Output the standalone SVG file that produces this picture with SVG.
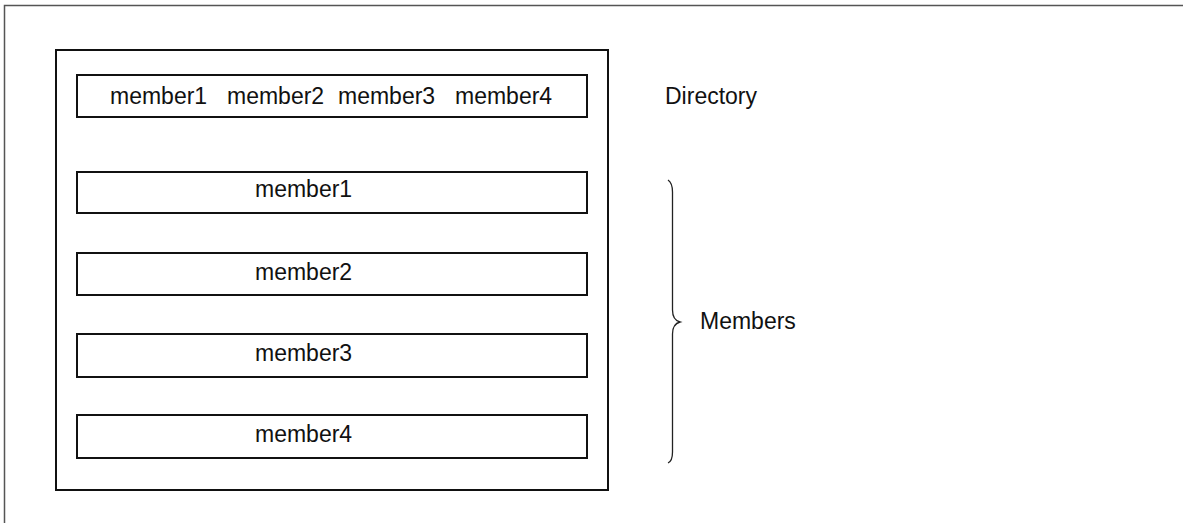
<svg xmlns="http://www.w3.org/2000/svg" width="1183" height="523" viewBox="0 0 1183 523">
<style>
.box{fill:#fff;stroke:#111;stroke-width:2}
.t{font-family:"Liberation Sans",Arial,sans-serif;font-size:23px;fill:#111}
.frame{fill:none;stroke:#555;stroke-width:1.5}
.brace{fill:none;stroke:#222;stroke-width:1.3}
</style>
<rect width="1183" height="523" fill="#fff"/>
<path class="frame" d="M4.5,523 L4.5,5.5 L1183,5.5"/>
<g id="container"><rect class="box" x="56" y="50" width="552" height="440"/></g>
<g id="directory">
<rect class="box" x="77" y="75" width="510" height="42"/>
<text class="t" y="104"><tspan x="110">member1</tspan><tspan x="227">member2</tspan><tspan x="338">member3</tspan><tspan x="455">member4</tspan></text>
</g>
<g id="member1"><rect class="box" x="77" y="172" width="510" height="41"/><text class="t" x="255" y="197">member1</text></g>
<g id="member2"><rect class="box" x="77" y="253" width="510" height="42"/><text class="t" x="255" y="280">member2</text></g>
<g id="member3"><rect class="box" x="77" y="334" width="510" height="43"/><text class="t" x="255" y="361">member3</text></g>
<g id="member4"><rect class="box" x="77" y="415" width="510" height="43"/><text class="t" x="255" y="442">member4</text></g>
<g id="label-directory"><text class="t" x="665" y="104">Directory</text></g>
<g id="connectors">
<path class="brace" d="M668,180 Q672.5,183 672.5,192 L672.5,310 Q672.5,320 680,322 Q672.5,324 672.5,334 L672.5,452 Q672.5,461 668,463"/>
</g>
<g id="label-members"><text class="t" x="700" y="329">Members</text></g>
</svg>
